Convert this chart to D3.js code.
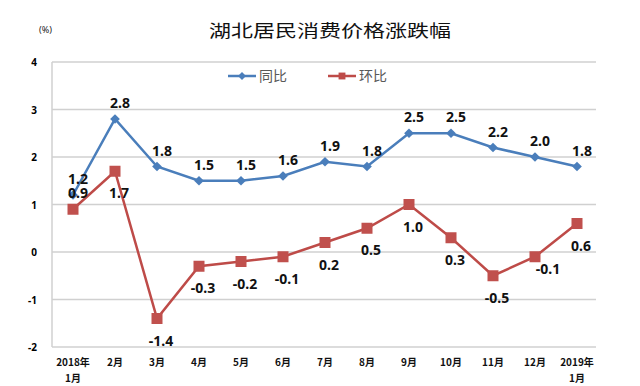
<!DOCTYPE html>
<html>
<head>
<meta charset="utf-8">
<script src="https://cdn.jsdelivr.net/npm/d3@7"></script>
<style>
  body { margin: 0; background: #fff; }
  text { font-family: "Noto Sans", "Noto Sans CJK SC", sans-serif; }
</style>
</head>
<body>
<div id="chart"></div>
<script>
var width = 640,
    height = 386

// data
var months = ["2018年\n1月", "2月", "3月", "4月", "5月", "6月", "7月", "8月", "9月", "10月", "11月", "12月", "2019年\n1月"]
var yoy = [1.2, 2.8, 1.8, 1.5, 1.5, 1.6, 1.9, 1.8, 2.5, 2.5, 2.2, 2.0, 1.8]   // 同比
var mom = [0.9, 1.7, -1.4, -0.3, -0.2, -0.1, 0.2, 0.5, 1.0, 0.3, -0.5, -0.1, 0.6]  // 环比
var yTicks = [4, 3, 2, 1, 0, -1, -2]
// where each label sits relative to its point
var yoyPlace = ["t", "t", "t", "t", "t", "t", "t", "t", "t", "t", "t", "t", "t"]
var momPlace = ["t", "b", "b", "b", "b", "b", "b", "b", "b", "b", "b", "br", "b"]

var blue = "#4a7ebb", red = "#be4b48"

var svg = d3.select("#chart")
  .append("svg")
    .attr("width", width)
    .attr("height", height)

var x = d3.scaleBand()
  .domain(months)
  .range([52, 598])

var y = d3.scaleLinear()
  .domain([-2, 4])
  .range([347, 62])

function cx(i) { return x(months[i]) + x.bandwidth() / 2 }

// gridlines
svg.append("g")
  .selectAll("line")
  .data(yTicks)
  .enter()
  .append("line")
    .attr("x1", 52)
    .attr("x2", 596)
    .attr("y1", function(d) { return y(d) })
    .attr("y2", function(d) { return y(d) })
    .attr("stroke", "#d0d0d0")
    .attr("stroke-width", 1.5)

// left axis line
svg.append("line")
  .attr("x1", 52).attr("x2", 52)
  .attr("y1", y(4)).attr("y2", y(-2))
  .attr("stroke", "#d0d0d0")
  .attr("stroke-width", 1.5)

// y tick labels
svg.append("g")
  .selectAll("text")
  .data(yTicks)
  .enter()
  .append("text")
    .attr("x", 37)
    .attr("y", function(d) { return y(d) + 4 })
    .attr("text-anchor", "end")
    .style("font-size", "10px")
    .style("font-weight", "bold")
    .text(function(d) { return d })

// x tick labels (two lines for the year ones)
var xl = svg.append("g")
  .selectAll("text")
  .data(months)
  .enter()
  .append("text")
    .attr("text-anchor", "middle")
    .style("font-family", "'Noto Sans CJK SC', sans-serif")
    .style("font-size", "10px")
    .style("font-weight", "bold")
    .attr("fill", "#111")
xl.selectAll("tspan")
  .data(function(d, i) { return d.split("\n").map(function(s) { return {s: s, i: i} }) })
  .enter()
  .append("tspan")
    .attr("x", function(d) { return cx(d.i) })
    .attr("y", function(d, k) { return 366 + k * 16 })
    .text(function(d) { return d.s })

// title and unit
svg.append("text")
  .attr("x", 330)
  .attr("y", 37)
  .attr("text-anchor", "middle")
  .attr("textLength", 242)
  .attr("lengthAdjust", "spacingAndGlyphs")
  .style("font-family", "'Noto Sans CJK SC', sans-serif")
  .style("font-size", "17px")
  .attr("fill", "#111")
  .text("湖北居民消费价格涨跌幅")

svg.append("text")
  .attr("x", 39)
  .attr("y", 33)
  .style("font-size", "9px")
  .attr("fill", "#222")
  .text("(%)")

var line = d3.line()
  .x(function(d, i) { return cx(i) })
  .y(function(d) { return y(d) })

// 同比 line + diamonds
svg.append("path")
  .datum(yoy)
  .attr("d", line)
  .attr("fill", "none")
  .attr("stroke", blue)
  .attr("stroke-width", 2.5)

var diamond = d3.symbol().type(d3.symbolDiamond2).size(60)
svg.append("g")
  .selectAll("path")
  .data(yoy)
  .enter()
  .append("path")
    .attr("d", diamond)
    .attr("transform", function(d, i) { return "translate(" + cx(i) + "," + y(d) + ")" })
    .attr("fill", blue)

// 环比 line + squares
svg.append("path")
  .datum(mom)
  .attr("d", line)
  .attr("fill", "none")
  .attr("stroke", red)
  .attr("stroke-width", 2.5)

svg.append("g")
  .selectAll("rect")
  .data(mom)
  .enter()
  .append("rect")
    .attr("x", function(d, i) { return cx(i) - 5.5 })
    .attr("y", function(d) { return y(d) - 5.5 })
    .attr("width", 11)
    .attr("height", 11)
    .attr("fill", "#c0504d")

// data labels
function offset(p) {
  if (p == "t") return [5, -11]
  if (p == "br") return [13, 17]
  return [4, 27]
}
function labels(values, place) {
  svg.append("g")
    .selectAll("text")
    .data(values)
    .enter()
    .append("text")
      .attr("x", function(d, i) { return cx(i) + offset(place[i])[0] })
      .attr("y", function(d, i) { return y(d) + offset(place[i])[1] })
      .attr("text-anchor", "middle")
      .style("font-size", "14px")
      .style("font-weight", "bold")
      .attr("fill", "#111")
      .text(function(d) { return d.toFixed(1) })
}
labels(yoy, yoyPlace)
labels(mom, momPlace)

// legend
var legend = [{name: "同比", color: blue, x: 228}, {name: "环比", color: red, x: 328}]
var lg = svg.append("g")
  .selectAll("g")
  .data(legend)
  .enter()
  .append("g")
    .attr("transform", function(d) { return "translate(" + d.x + ",76)" })
lg.append("line")
  .attr("x1", 0).attr("x2", 28)
  .attr("stroke", function(d) { return d.color })
  .attr("stroke-width", 2.5)
lg.append("path")
  .attr("d", function(d, i) { return d3.symbol().type(i == 0 ? d3.symbolDiamond2 : d3.symbolSquare2).size(i == 0 ? 40 : 60)() })
  .attr("transform", "translate(14,0)")
  .attr("fill", function(d) { return d.color })
lg.append("text")
  .attr("x", 31)
  .attr("y", 5)
  .style("font-family", "'Noto Sans CJK SC', sans-serif")
  .style("font-size", "14px")
  .attr("fill", "#595959")
  .text(function(d) { return d.name })
</script>
</body>
</html>
